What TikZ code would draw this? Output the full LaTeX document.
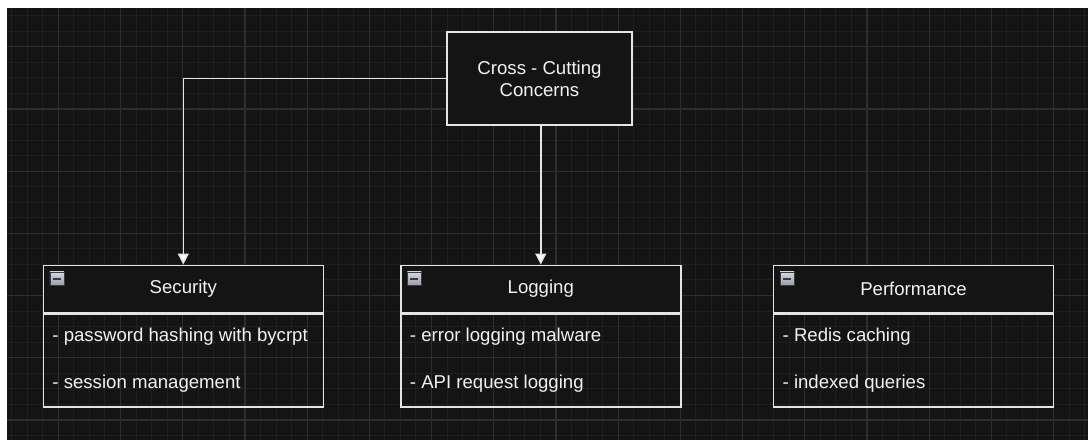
\documentclass[tikz,border=0pt]{standalone}
\usepackage{fontspec}
\setmainfont{Liberation Sans}
\usetikzlibrary{arrows.meta,positioning}

\definecolor{canvas}{HTML}{141414}
\definecolor{gridminor}{HTML}{1F1F1F}
\definecolor{gridmajor}{HTML}{2E2E2E}
\definecolor{edgecol}{HTML}{E4E4E4}
\definecolor{textcol}{HTML}{F2F2F2}
\definecolor{iconhi}{HTML}{D4D6DC}
\definecolor{iconlo}{HTML}{9A9CA4}
\definecolor{iconline}{HTML}{3A3C44}

\tikzset{
  basefont/.style={font=\fontsize{9.3pt}{11pt}\selectfont, text=textcol},
  conceptbox/.style={basefont, draw=edgecol, line width=0.75pt, fill=canvas,
    minimum width=92.5pt, minimum height=46.5pt, align=center, inner sep=0pt},
  classhead/.style={basefont, draw=edgecol, line width=0.75pt, fill=canvas,
    minimum width=140pt, minimum height=23.5pt, inner sep=0pt},
  classbody/.style={draw=edgecol, line width=0.75pt,
    minimum width=140pt, minimum height=46.5pt, inner sep=0pt},
  item/.style={basefont, anchor=west, inner sep=0pt},
  foldicon/.style={anchor=north west, minimum width=7pt, minimum height=6.8pt,
    inner sep=0pt, draw=iconline, line width=0.3pt,
    top color=iconhi, bottom color=iconlo,
    path picture={\draw[iconline, line width=1pt]
      ([xshift=1.5pt]path picture bounding box.west) --
      ([xshift=-1.5pt]path picture bounding box.east);}},
  conn/.style={draw=edgecol, line width=0.75pt,
    -{Triangle[width=5.5pt,length=5.5pt,fill=white]}},
}

\begin{document}
\begin{tikzpicture}[x=0.5pt, y=-0.5pt]
  \useasboundingbox (0,0) rectangle (1088,440);
  \fill[white] (0,0) rectangle (1088,440);
  \fill[canvas] (7,8) rectangle (1088,440);

  % background grid
  \begin{scope}
    \clip (7,8) rectangle (1088,440);
    \foreach \i in {0,...,70}
      \draw[gridminor, line width=0.5pt] ({11.65+15.55*\i},8) -- ++(0,432);
    \foreach \j in {0,...,28}
      \draw[gridminor, line width=0.5pt] (7,{15.6+15.55*\j}) -- ++(1081,0);
    \foreach \i in {0,...,17}
      \draw[gridmajor, line width=0.6pt] ({58.3+62.2*\i},8) -- ++(0,432);
    \foreach \j in {0,...,6}
      \draw[gridmajor, line width=0.6pt] (7,{46.7+62.2*\j}) -- ++(1081,0);
  \end{scope}

  % central concept
  \node[conceptbox] (cc) at (539.5,78.5) {Cross - Cutting\\Concerns};

  % Security
  \node[classhead] (sec) at (183.3,288.8) {Security};
  \node[classbody, anchor=north] (secbody) at (sec.south) {};
  \node[foldicon] (secicon) at ([shift={(7,7)}]sec.north west) {};
  \node[item] (sec1) at ([shift={(9.5,23.5)}]secbody.north west) {- password hashing with bycrpt};
  \node[item] (sec2) at ([shift={(9.5,70.5)}]secbody.north west) {- session management};

  % Logging
  \node[classhead] (log) at (540.8,288.8) {Logging};
  \node[classbody, anchor=north] (logbody) at (log.south) {};
  \node[foldicon] (logicon) at ([shift={(7,7)}]log.north west) {};
  \node[item] (log1) at ([shift={(9.5,23.5)}]logbody.north west) {- error logging malware};
  \node[item] (log2) at ([shift={(9.5,70.5)}]logbody.north west) {- API request logging};

  % Performance
  \node[classhead] (perf) at (913.5,288.8) {Performance};
  \node[classbody, anchor=north] (perfbody) at (perf.south) {};
  \node[foldicon] (perficon) at ([shift={(7,7)}]perf.north west) {};
  \node[item] (perf1) at ([shift={(9.5,23.5)}]perfbody.north west) {- Redis caching};
  \node[item] (perf2) at ([shift={(9.5,70.5)}]perfbody.north west) {- indexed queries};

  % connectors
  \draw[conn] (cc.west) -| (sec.north);
  \draw[conn] (cc.south -| log.north) -- (log.north);
\end{tikzpicture}
\end{document}
